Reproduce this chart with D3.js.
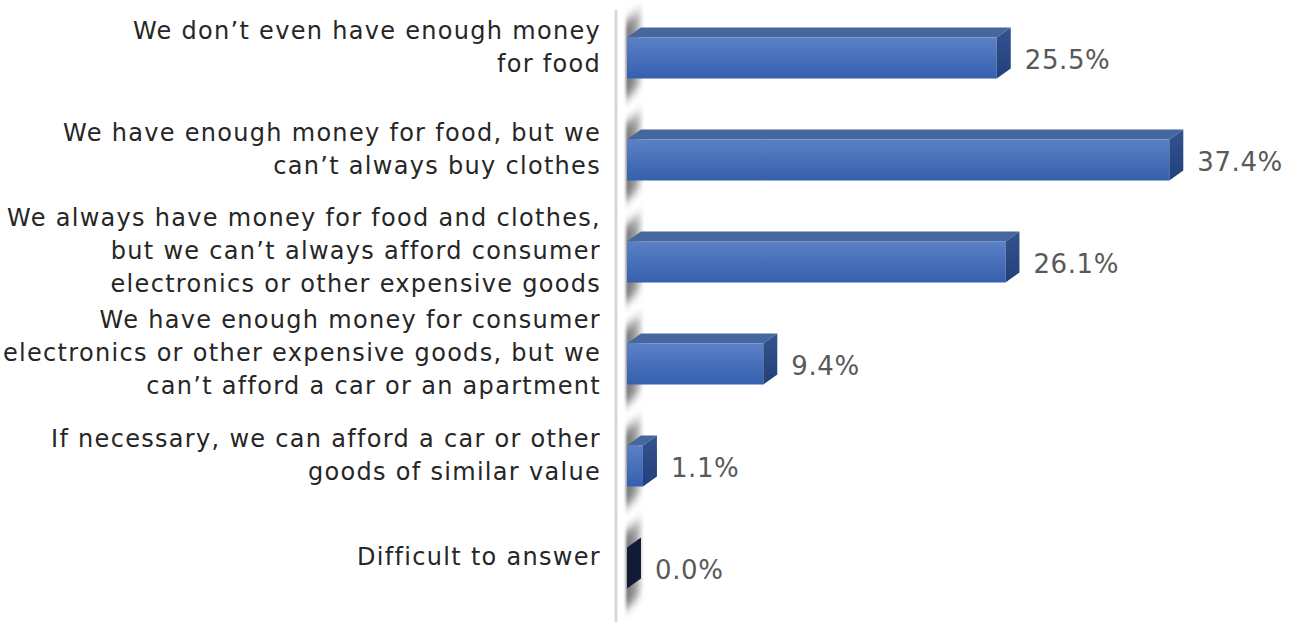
<!DOCTYPE html>
<html>
<head>
<meta charset="utf-8">
<script src="https://cdn.jsdelivr.net/npm/d3@7"></script>
<style>
  body { margin: 0; background: #fff; }
  svg { display: block; }
</style>
</head>
<body>
<div id="chart"></div>
<script>
// categories (split into the lines shown on the chart) and values in %
const categories = [
    "We don’t even have enough money|for food",
    "We have enough money for food, but we|can’t always buy clothes",
    "We always have money for food and clothes,|but we can’t always afford consumer|electronics or other expensive goods",
    "We have enough money for consumer|electronics or other expensive goods, but we|can’t afford a car or an apartment",
    "If necessary, we can afford a car or other|goods of similar value",
    "Difficult to answer"
];
const values = [25.5, 37.4, 26.1, 9.4, 1.1, 0.0];

const data = categories.map((c, i) => ({cat: c, value: values[i]}));

const width = 1292, height = 622;
const barH = 41, dx = 14, dy = 10;
const font = 'DejaVu Sans, sans-serif';

const svg = d3.select('#chart').append('svg')
    .attr('width', width)
    .attr('height', height);

const defs = svg.append('defs');

const front = defs.append('linearGradient')
    .attr('id', 'front').attr('x1', 0).attr('y1', 0).attr('x2', 0).attr('y2', 1);
front.append('stop').attr('offset', '0%').attr('stop-color', '#5b80c6');
front.append('stop').attr('offset', '100%').attr('stop-color', '#3560ae');

const side = defs.append('linearGradient')
    .attr('id', 'side').attr('x1', 0).attr('y1', 0).attr('x2', 0).attr('y2', 1);
side.append('stop').attr('offset', '0%').attr('stop-color', '#34538e');
side.append('stop').attr('offset', '100%').attr('stop-color', '#22407a');

// wall shadow: dark at the left, fading to the right
const shade = defs.append('linearGradient')
    .attr('id', 'shade').attr('x1', 0).attr('y1', 0).attr('x2', 1).attr('y2', 0);
shade.append('stop').attr('offset', '0%').attr('stop-color', '#333');
shade.append('stop').attr('offset', '55%').attr('stop-color', '#777');
shade.append('stop').attr('offset', '100%').attr('stop-color', '#eee');

defs.append('filter').attr('id', 'blur')
    .attr('x', '-100%').attr('y', '-50%').attr('width', '300%').attr('height', '200%')
    .append('feGaussianBlur').attr('stdDeviation', '1.5 6');

const x = d3.scaleLinear().domain([0, 40]).range([627, 1207]);
const y = d3.scaleBand()
    .domain(categories)
    .range([7, 619]);

// axis line
svg.append('line')
    .attr('x1', 616).attr('x2', 616)
    .attr('y1', 10).attr('y2', height)
    .attr('stroke', '#d9d9d9')
    .attr('stroke-width', 3);

const g = svg.selectAll('.bar')
    .data(data)
    .enter().append('g')
    .attr('class', 'bar');

const frontTop = d => y(d.cat) + y.bandwidth() / 2 - barH / 2;

// shadow on the back wall
g.append('path')
    .attr('d', d => {
        const t = frontTop(d), b = t + barH, x0 = x(0) - 1, x1 = x(0) + dx + 2;
        return `M${x0},${t - 16} L${x1},${t - 30} L${x1},${b + 6} L${x0},${b + 20} Z`;
    })
    .attr('fill', 'url(#shade)')
    .attr('opacity', 0.7)
    .attr('filter', 'url(#blur)');

// top face
g.append('path')
    .attr('d', d => {
        const t = frontTop(d), x0 = x(0), x1 = x(d.value);
        return `M${x0},${t} L${x0 + dx},${t - dy} L${x1 + dx},${t - dy} L${x1},${t} Z`;
    })
    .attr('fill', '#46669e');

// front face
g.append('rect')
    .attr('x', x(0))
    .attr('y', d => frontTop(d))
    .attr('width', d => x(d.value) - x(0))
    .attr('height', barH)
    .attr('fill', 'url(#front)');

// side face
g.append('path')
    .attr('d', d => {
        const t = frontTop(d), x1 = x(d.value);
        return `M${x1},${t} L${x1 + dx},${t - dy} L${x1 + dx},${t - dy + barH} L${x1},${t + barH} Z`;
    })
    .attr('fill', d => d.value === 0 ? '#111b36' : 'url(#side)');

// value labels
g.append('text')
    .attr('x', d => x(d.value) + dx + 14)
    .attr('y', d => frontTop(d) + barH / 2 + 2)
    .attr('dy', '0.35em')
    .attr('font-family', font)
    .attr('font-size', 26)
    .attr('letter-spacing', 0.6)
    .attr('fill', '#595959')
    .text(d => d.value.toFixed(1) + '%');

// category labels
const lineH = 33;
g.append('text')
    .attr('text-anchor', 'end')
    .attr('font-family', font)
    .attr('font-size', 24)
    .attr('letter-spacing', 1.3)
    .attr('fill', '#262626')
    .each(function(d) {
        const lines = d.cat.split('|');
        const cy = y(d.cat) + y.bandwidth() / 2 - 11;
        const start = cy - (lines.length - 1) * lineH / 2;
        lines.forEach((l, i) => {
            d3.select(this).append('tspan')
                .attr('x', 601)
                .attr('y', start + i * lineH)
                .attr('dy', '0.35em')
                .text(l);
        });
    });
</script>
</body>
</html>
